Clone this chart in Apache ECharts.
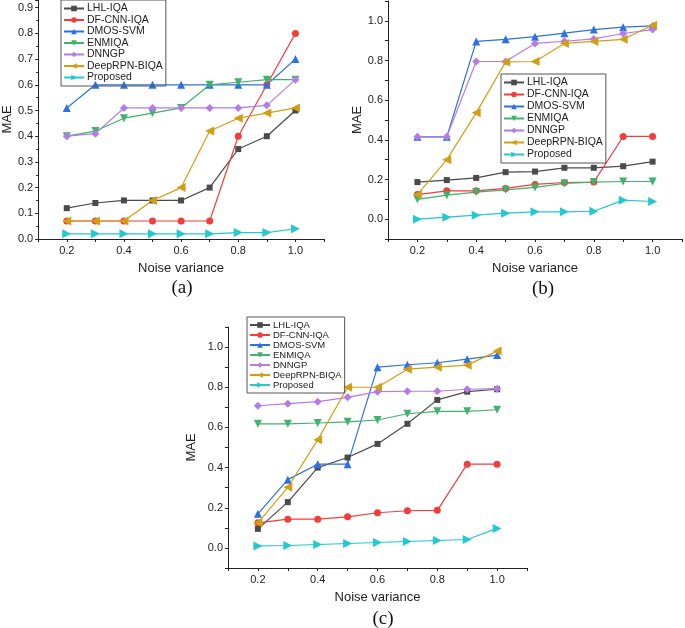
<!DOCTYPE html>
<html>
<head>
<meta charset="utf-8">
<script src="https://cdn.jsdelivr.net/npm/echarts@6/dist/echarts.min.js"></script>
<style>
  html, body { margin: 0; padding: 0; background: #fff; }
  #chart { width: 685px; height: 628px; }
</style>
</head>
<body>
<div id="chart"></div>
<script>
// noise variance values (x)
const noise = [0.2, 0.3, 0.4, 0.5, 0.6, 0.7, 0.8, 0.9, 1.0];
const methods = ['LHL-IQA', 'DF-CNN-IQA', 'DMOS-SVM', 'ENMIQA', 'DNNGP', 'DeepRPN-BIQA', 'Proposed'];

// panel (a)
const lhlA = [0.12, 0.14, 0.15, 0.15, 0.15, 0.20, 0.35, 0.40, 0.50];
const dfcnnA = [0.07, 0.07, 0.07, 0.07, 0.07, 0.07, 0.40, 0.60, 0.80];
const dmosA = [0.51, 0.60, 0.60, 0.60, 0.60, 0.60, 0.60, 0.60, 0.70];
const enmiqaA = [0.40, 0.42, 0.47, 0.49, 0.51, 0.60, 0.61, 0.62, 0.62];
const dnngpA = [0.40, 0.41, 0.51, 0.51, 0.51, 0.51, 0.51, 0.52, 0.62];
const deeprpnA = [0.07, 0.07, 0.07, 0.15, 0.20, 0.42, 0.47, 0.49, 0.51];
const proposedA = [0.02, 0.02, 0.02, 0.02, 0.02, 0.02, 0.025, 0.025, 0.04];

// panel (b)
const lhlB = [0.187, 0.197, 0.208, 0.237, 0.24, 0.259, 0.259, 0.267, 0.29];
const dfcnnB = [0.124, 0.143, 0.143, 0.155, 0.175, 0.185, 0.187, 0.417, 0.417];
const dmosB = [0.415, 0.415, 0.896, 0.907, 0.92, 0.938, 0.956, 0.968, 0.975];
const enmiqaB = [0.10, 0.121, 0.136, 0.148, 0.16, 0.18, 0.187, 0.19, 0.19];
const dnngpB = [0.415, 0.415, 0.795, 0.795, 0.886, 0.897, 0.909, 0.936, 0.956];
const deeprpnB = [0.124, 0.30, 0.536, 0.793, 0.795, 0.886, 0.896, 0.907, 0.978];
const proposedB = [0.0, 0.01, 0.02, 0.03, 0.037, 0.037, 0.04, 0.096, 0.089];

// panel (c)
const lhlC = [0.095, 0.228, 0.40, 0.45, 0.518, 0.618, 0.737, 0.778, 0.79];
const dfcnnC = [0.125, 0.143, 0.143, 0.155, 0.175, 0.185, 0.187, 0.417, 0.417];
const dmosC = [0.17, 0.34, 0.417, 0.417, 0.90, 0.912, 0.922, 0.94, 0.96];
const enmiqaC = [0.618, 0.618, 0.622, 0.628, 0.637, 0.668, 0.68, 0.68, 0.688];
const dnngpC = [0.708, 0.718, 0.728, 0.75, 0.778, 0.78, 0.78, 0.79, 0.793];
const deeprpnC = [0.125, 0.302, 0.538, 0.80, 0.80, 0.89, 0.90, 0.91, 0.98];
const proposedC = [0.01, 0.012, 0.017, 0.022, 0.027, 0.032, 0.037, 0.042, 0.097];

const colors = ['#4a4a4a', '#f23d3d', '#2b72e0', '#3fb26b', '#b57ae6', '#d29e16', '#22c9cf'];
// square, circle, up / down / left / right triangles, diamond
const symbols = [
    'rect', 'circle',
    'path://M5,0 L10,9 L0,9 Z',
    'path://M0,0 L10,0 L5,9 Z',
    'diamond',
    'path://M0,5 L9,0 L9,10 Z',
    'path://M9,5 L0,0 L0,10 Z'
];
const sizes = [6, 7, 8, 8, 8, 9, 9];

const panels = [
    [lhlA, dfcnnA, dmosA, enmiqaA, dnngpA, deeprpnA, proposedA],
    [lhlB, dfcnnB, dmosB, enmiqaB, dnngpB, deeprpnB, proposedB],
    [lhlC, dfcnnC, dmosC, enmiqaC, dnngpC, deeprpnC, proposedC]
];

const font = 'Liberation Sans';
const axisColor = '#222';

function evenLabel(v) {
    let k = Math.round(v * 10);
    if (k % 2 !== 0 || k < 0) return '';
    return (k / 10).toFixed(1);
}

function xAxisFor(i) {
    return {
        gridIndex: i, type: 'value', min: 0.1, max: 1.1, interval: 0.1,
        name: 'Noise variance', nameLocation: 'middle', nameGap: 23,
        nameTextStyle: { fontFamily: font, fontSize: 13, color: axisColor },
        axisLine: { onZero: false, lineStyle: { color: axisColor, width: 1 } },
        axisTick: { inside: false, length: 3, lineStyle: { color: axisColor } },
        axisLabel: { fontFamily: font, fontSize: 11, color: axisColor, margin: 6, formatter: evenLabel },
        splitLine: { show: false }
    };
}

let chart = echarts.init(document.getElementById('chart'));

let option = {
    backgroundColor: '#fff',
    animation: false,
    title: [
        { text: '(a)', left: 177, top: 274, textAlign: 'center' },
        { text: '(b)', left: 538, top: 275, textAlign: 'center' },
        { text: '(c)', left: 378, top: 605, textAlign: 'center' }
    ].map(t => Object.assign(t, { textStyle: { fontFamily: 'Liberation Serif', fontWeight: 'normal', fontSize: 19, color: '#111' } })),
    grid: [
        { left: 37, right: 361, top: 0, bottom: 389 },
        { left: 388, right: 1, top: 1, bottom: 389 },
        { left: 228, right: 158, top: 327, bottom: 60 }
    ],
    legend: [
        { left: 61, top: 0, itemGap: 0.5, textStyle: { fontSize: 10.5, lineHeight: 11 } },
        { left: 501, top: 74, itemGap: 1, textStyle: { fontSize: 10.5, lineHeight: 11 } },
        { left: 247, top: 317, itemGap: 0, textStyle: { fontSize: 9.5, lineHeight: 10 } }
    ].map(l => Object.assign(l, {
        orient: 'vertical', data: methods, itemWidth: 20, itemHeight: 7,
        borderColor: '#555', borderWidth: 1, padding: [3, 3, 3, 2],
        textStyle: Object.assign(l.textStyle, { fontFamily: font, color: axisColor, padding: [0, 0, 0, -2] })
    })),
    xAxis: [xAxisFor(0), xAxisFor(1), xAxisFor(2)],
    yAxis: [
        {
            gridIndex: 0, type: 'value', min: 0, max: 0.93, interval: 0.1,
            axisLabel: { showMaxLabel: false, formatter: v => v.toFixed(1) },
            minorTick: { show: true, splitNumber: 2, length: 2, lineStyle: { color: axisColor } },
            nameGap: 23
        },
        {
            gridIndex: 1, type: 'value', min: -0.1, max: 1.1, interval: 0.1,
            axisLabel: { formatter: evenLabel }, nameGap: 23
        },
        {
            gridIndex: 2, type: 'value', min: -0.1, max: 1.1, interval: 0.1,
            axisLabel: { formatter: evenLabel }, nameGap: 30
        }
    ].map(a => Object.assign(a, {
        name: 'MAE', nameLocation: 'middle',
        nameTextStyle: { fontFamily: font, fontSize: 13, color: axisColor },
        axisLine: { show: true, onZero: false, lineStyle: { color: axisColor, width: 1 } },
        axisTick: { show: true, inside: false, length: 3, lineStyle: { color: axisColor } },
        axisLabel: Object.assign(a.axisLabel, { fontFamily: font, fontSize: 11, color: axisColor, margin: 5 }),
        splitLine: { show: false }
    })),
    series: []
};

panels.forEach((panel, p) => {
    panel.forEach((vals, m) => {
        option.series.push({
            name: methods[m],
            type: 'line',
            xAxisIndex: p,
            yAxisIndex: p,
            data: noise.map((x, i) => [x, vals[i]]),
            symbol: symbols[m],
            symbolSize: sizes[m],
            color: colors[m],
            lineStyle: { width: 1.2, color: colors[m] },
            itemStyle: { color: colors[m] }
        });
    });
});

chart.setOption(option);
</script>
</body>
</html>
